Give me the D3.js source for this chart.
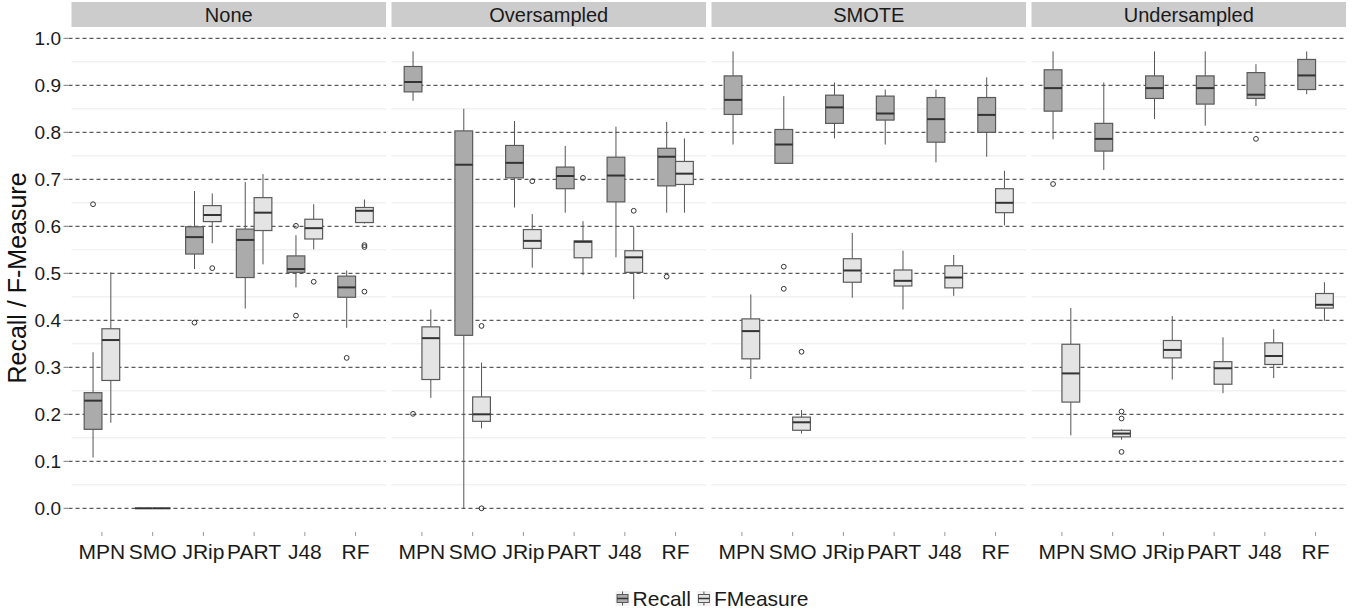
<!DOCTYPE html>
<html><head><meta charset="utf-8">
<script src="https://cdn.jsdelivr.net/npm/d3@7"></script>
<style>body{margin:0;background:#fff}svg{display:block;font-family:"Liberation Sans",Arial,sans-serif}</style>
</head><body><svg id="c" width="1363" height="613"></svg>
<script>
// ---- data ----
const panels = ["None", "Oversampled", "SMOTE", "Undersampled"];
const methods = ["MPN", "SMO", "JRip", "PART", "J48", "RF"];
const series = ["Recall", "FMeasure"];
const yTicks = [0.0, 0.1, 0.2, 0.3, 0.4, 0.5, 0.6, 0.7, 0.8, 0.9, 1.0];

// [lowerWhisker, q1, median, q3, upperWhisker] per method
const recallNone = [[0.108,0.168,0.229,0.246,0.332],[0,0,0,0,0],[0.509,0.541,0.577,0.599,0.675],[0.425,0.491,0.571,0.594,0.694],[0.470,0.502,0.509,0.537,0.581],[0.384,0.449,0.470,0.494,0.506]];
const fmeasureNone = [[0.182,0.272,0.358,0.382,0.502],[0,0,0,0,0],[0.564,0.610,0.624,0.644,0.670],[0.519,0.591,0.629,0.661,0.711],[0.551,0.573,0.596,0.615,0.647],[0.606,0.608,0.633,0.640,0.657]];
const recallOver = [[0.867,0.886,0.907,0.940,0.972],[0.0,0.368,0.731,0.803,0.850],[0.640,0.703,0.735,0.772,0.824],[0.629,0.680,0.707,0.726,0.771],[0.534,0.652,0.708,0.747,0.812],[0.629,0.686,0.748,0.766,0.822]];
const fmeasureOver = [[0.235,0.274,0.362,0.386,0.423],[0.170,0.185,0.200,0.237,0.310],[0.512,0.553,0.569,0.593,0.626],[0.496,0.533,0.567,0.569,0.611],[0.445,0.502,0.534,0.548,0.599],[0.629,0.689,0.712,0.738,0.787]];
const recallSmote = [[0.774,0.838,0.869,0.920,0.972],[0.733,0.734,0.774,0.806,0.877],[0.787,0.819,0.853,0.879,0.906],[0.774,0.826,0.840,0.877,0.891],[0.736,0.779,0.828,0.874,0.891],[0.748,0.800,0.837,0.874,0.917]];
const fmeasureSmote = [[0.275,0.318,0.377,0.403,0.455],[0.159,0.166,0.183,0.194,0.209],[0.448,0.481,0.506,0.531,0.586],[0.423,0.473,0.484,0.507,0.548],[0.452,0.469,0.491,0.516,0.539],[0.602,0.629,0.650,0.680,0.718]];
const recallUnder = [[0.785,0.845,0.894,0.933,0.972],[0.720,0.760,0.786,0.819,0.906],[0.828,0.872,0.894,0.920,0.972],[0.814,0.860,0.894,0.920,0.972],[0.856,0.872,0.880,0.927,0.945],[0.881,0.891,0.921,0.955,0.972]];
const fmeasureUnder = [[0.155,0.226,0.287,0.349,0.426],[0.146,0.152,0.159,0.166,0.168],[0.274,0.320,0.337,0.357,0.409],[0.245,0.264,0.298,0.312,0.364],[0.277,0.306,0.324,0.352,0.381],[0.399,0.426,0.433,0.457,0.481]];

// outliers: [panel, method, series, value]
const outliers = [
  ["None","MPN","Recall",0.647],["None","JRip","Recall",0.395],["None","JRip","FMeasure",0.511],
  ["None","J48","Recall",0.601],["None","J48","Recall",0.410],["None","J48","FMeasure",0.482],
  ["None","RF","Recall",0.320],["None","RF","FMeasure",0.560],["None","RF","FMeasure",0.556],["None","RF","FMeasure",0.461],
  ["Oversampled","MPN","Recall",0.201],["Oversampled","SMO","FMeasure",0.388],["Oversampled","SMO","FMeasure",0.0],
  ["Oversampled","JRip","FMeasure",0.696],["Oversampled","PART","FMeasure",0.703],["Oversampled","J48","FMeasure",0.633],
  ["Oversampled","RF","Recall",0.493],
  ["SMOTE","SMO","Recall",0.514],["SMOTE","SMO","Recall",0.467],["SMOTE","SMO","FMeasure",0.333],
  ["Undersampled","MPN","Recall",0.690],["Undersampled","SMO","FMeasure",0.206],["Undersampled","SMO","FMeasure",0.191],
  ["Undersampled","SMO","FMeasure",0.120],["Undersampled","J48","Recall",0.786]
];

const stats = {
  None: {Recall: recallNone, FMeasure: fmeasureNone},
  Oversampled: {Recall: recallOver, FMeasure: fmeasureOver},
  SMOTE: {Recall: recallSmote, FMeasure: fmeasureSmote},
  Undersampled: {Recall: recallUnder, FMeasure: fmeasureUnder}
};

// ---- layout ----
const svg = d3.select("#c");
const plotLeft = 71.5, panelW = 314.5, panelGap = 5.5;
const fills = {Recall: "#ababab", FMeasure: "#e4e4e4"};

const y = d3.scaleLinear().domain([0, 1]).range([508.3, 38.3]);
const fx = d3.scaleBand().domain(panels).range([plotLeft, plotLeft + 4*panelW + 3*panelGap])
  .paddingInner(panelGap/(panelW+panelGap)).paddingOuter(0);

// y axis labels
svg.append("g").selectAll("text").data(yTicks).join("text")
  .attr("x", 61).attr("y", d => y(d)).attr("dy", "0.36em").attr("text-anchor", "end")
  .attr("font-size", 19).attr("fill", "#1a1a1a").text(d => d.toFixed(1));
svg.append("g").selectAll("line").data(yTicks).join("line")
  .attr("x1", 63.5).attr("x2", 68).attr("y1", d => y(d)).attr("y2", d => y(d)).attr("stroke", "#777");

svg.append("text").attr("transform", `translate(26,${278}) rotate(-90)`)
  .attr("text-anchor", "middle").attr("font-size", 25).attr("fill", "#111").text("Recall / F-Measure");

panels.forEach(p => {
  const x0 = fx(p), w = fx.bandwidth();
  const g = svg.append("g");
  g.append("rect").attr("x", x0).attr("y", 2).attr("width", w).attr("height", 25).attr("fill", "#cccccc");
  g.append("text").attr("x", x0 + w/2).attr("y", 15).attr("dy", "0.36em").attr("text-anchor", "middle")
    .attr("font-size", 20).attr("fill", "#1a1a1a").text(p);

  const x = d3.scalePoint().domain(methods).range([x0, x0 + w]).padding(0.6);
  const step = x.step();
  const minor = d3.range(0.05, 1.0, 0.1);
  g.selectAll(".mn").data(minor).join("line").attr("x1", x0).attr("x2", x0 + w)
    .attr("y1", d => y(d)).attr("y2", d => y(d)).attr("stroke", "#ececec").attr("stroke-width", 1);
  g.selectAll(".mj").data(yTicks).join("line").attr("x1", x0 - (p === panels[0] ? 3 : 0)).attr("x2", x0 + w)
    .attr("y1", d => y(d)).attr("y2", d => y(d)).attr("stroke", "#333").attr("stroke-width", 1)
    .attr("stroke-dasharray", "4,3");

  g.selectAll(".tk").data(methods).join("line").attr("x1", d => x(d)).attr("x2", d => x(d))
    .attr("y1", 532).attr("y2", 536).attr("stroke", "#999");
  g.selectAll(".tl").data(methods).join("text").attr("x", d => x(d)).attr("y", 551).attr("dy", "0.36em")
    .attr("text-anchor", "middle").attr("font-size", 21).attr("fill", "#1a1a1a").text(d => d);

  const bw = step * 0.35;
  series.forEach((s, si) => {
    const off = si === 0 ? -bw : 0;
    methods.forEach((m, mi) => {
      const [lo, q1, med, q3, hi] = stats[p][s][mi];
      const bx = x(m) + off, cx = bx + bw/2;
      g.append("line").attr("x1", cx).attr("x2", cx).attr("y1", y(hi)).attr("y2", y(q3)).attr("stroke", "#555").attr("stroke-width", 1);
      g.append("line").attr("x1", cx).attr("x2", cx).attr("y1", y(q1)).attr("y2", y(lo)).attr("stroke", "#555").attr("stroke-width", 1);
      g.append("rect").attr("x", bx).attr("y", y(q3)).attr("width", bw).attr("height", Math.max(0, y(q1) - y(q3)))
        .attr("fill", fills[s]).attr("stroke", "#5a5a5a").attr("stroke-width", 1.2);
      g.append("line").attr("x1", bx).attr("x2", bx + bw).attr("y1", y(med)).attr("y2", y(med)).attr("stroke", "#333").attr("stroke-width", 2);
    });
    outliers.filter(o => o[0] === p && o[2] === s).forEach(o => {
      g.append("circle").attr("cx", x(o[1]) + off + bw/2).attr("cy", y(o[3])).attr("r", 2.4)
        .attr("fill", "none").attr("stroke", "#333").attr("stroke-width", 1);
    });
  });
});

// legend, centred
const leg = svg.append("g");
let cursor = 0;
series.forEach((s, i) => {
  const k = leg.append("g").attr("transform", `translate(${cursor},0)`);
  k.append("rect").attr("width", 14).attr("height", 15).attr("fill", "#f2f2f2");
  k.append("line").attr("x1", 7).attr("x2", 7).attr("y1", 0.5).attr("y2", 14.5).attr("stroke", "#555");
  k.append("rect").attr("x", 1.5).attr("y", 3.5).attr("width", 11).attr("height", 8).attr("fill", fills[s]).attr("stroke", "#5a5a5a");
  k.append("line").attr("x1", 1.5).attr("x2", 12.5).attr("y1", 7.5).attr("y2", 7.5).attr("stroke", "#333").attr("stroke-width", 1.5);
  const t = k.append("text").attr("x", 17).attr("y", 7.5).attr("dy", "0.36em").attr("font-size", 21).attr("fill", "#1a1a1a").text(s);
  cursor += 17 + t.node().getComputedTextLength() + 6;
});
const legW = cursor - 6;
leg.attr("transform", `translate(${712 - legW/2},591)`);
</script></body></html>
